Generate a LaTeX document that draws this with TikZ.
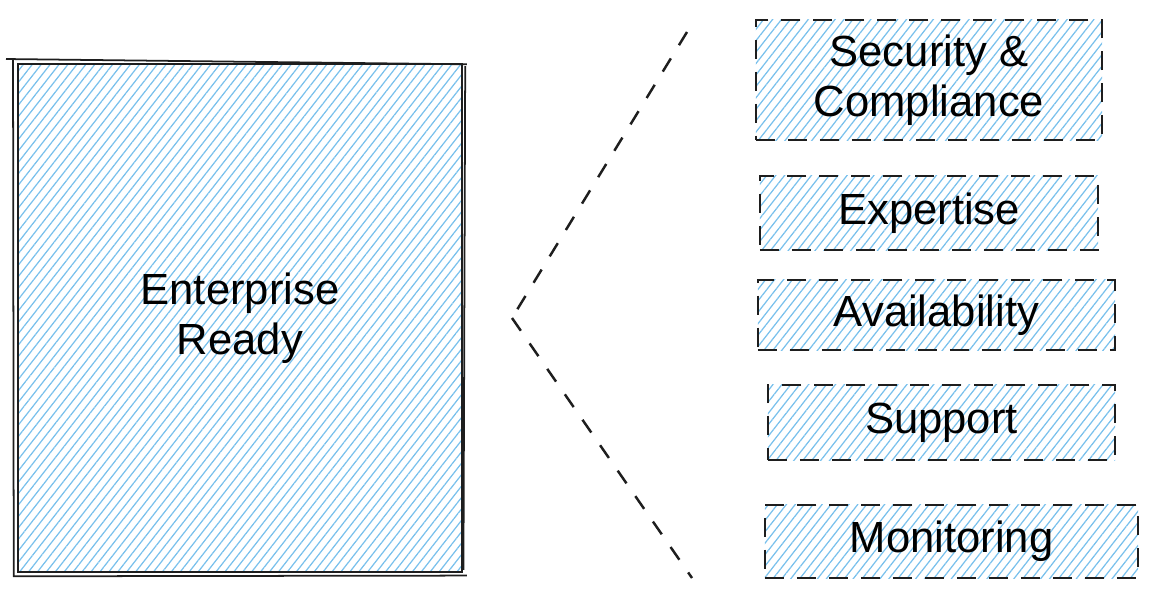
\documentclass[tikz,border=0pt]{standalone}
\usepackage{fontspec}
\setmainfont{Liberation Sans}
\usetikzlibrary{patterns.meta}
\definecolor{hatch}{RGB}{120,192,236}
\definecolor{ink}{RGB}{30,30,30}
\tikzset{
  hatched/.style={pattern={Lines[angle=52,distance=2.0pt,line width=0.35pt]},pattern color=hatch},
  bigbox/.style={hatched,draw=ink,line width=0.75pt,inner sep=0pt,align=center,
    font=\fontsize{12.4}{14.2}\selectfont},
  itembox/.style={hatched,draw=ink,line width=0.7pt,dash pattern=on 5.5pt off 3.6pt,
    inner sep=0pt,align=center,font=\fontsize{12.4}{14.2}\selectfont},
  conn/.style={draw=ink,line width=0.7pt,dash pattern=on 4.4pt off 4.4pt}
}
\begin{document}
\begin{tikzpicture}[x=0.01cm,y=-0.01cm]
\useasboundingbox (0,0) rectangle (1152,597);
\node[bigbox,minimum width=4.44cm,minimum height=5.08cm] (ent) at (240,318) {Enterprise\\Ready};
\draw[ink,line width=0.5pt] ([shift={(-3pt,1pt)}]ent.north west) -- ([shift={(1pt,-0.5pt)}]ent.north east);
\draw[ink,line width=0.5pt] ([shift={(0.5pt,-1pt)}]ent.north east) -- ([shift={(0pt,1pt)}]ent.south east);
\draw[ink,line width=0.5pt] ([shift={(-1pt,-0.8pt)}]ent.south west) -- ([shift={(1pt,-0.6pt)}]ent.south east);
\draw[ink,line width=0.5pt] ([shift={(-1pt,1pt)}]ent.north west) -- ([shift={(-0.8pt,-1pt)}]ent.south west);

\node[itembox,minimum width=3.46cm,minimum height=1.2cm] (sec) at (929,80) {Security \&\\Compliance};
\node[itembox,minimum width=3.38cm,minimum height=0.74cm] (exp) at (929,213) {Expertise};
\node[itembox,minimum width=3.57cm,minimum height=0.70cm] (ava) at (936.5,315) {Availability};
\node[itembox,minimum width=3.47cm,minimum height=0.75cm] (sup) at (941.5,422.5) {Support};
\node[itembox,minimum width=3.73cm,minimum height=0.73cm] (mon) at (951.5,541.5) {Monitoring};

\coordinate (ctop) at (687,32);
\coordinate (cmid) at (512,318);
\coordinate (cbot) at (692,578);
\draw[conn] (ctop) -- (cmid);
\draw[conn] (cmid) -- (cbot);
\end{tikzpicture}
\end{document}
